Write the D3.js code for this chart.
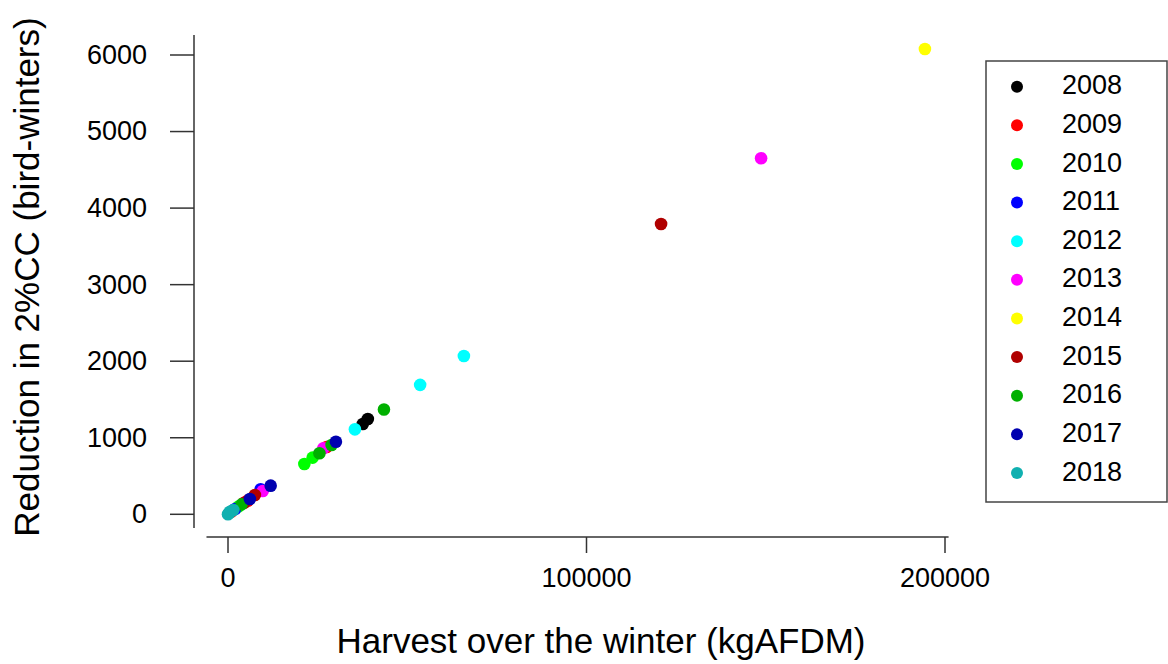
<!DOCTYPE html>
<html>
<head>
<meta charset="utf-8">
<script src="https://cdn.jsdelivr.net/npm/d3@7.9.0/dist/d3.min.js"></script>
<style>
  html, body { margin: 0; padding: 0; background: #fff; }
  svg text { font-family: "Liberation Sans", Arial, sans-serif; fill: #000; }
</style>
</head>
<body>
<svg id="chart" width="1168" height="664"></svg>
<script>
// years and their colours (R-style palette)
const years = ['2008', '2009', '2010', '2011', '2012', '2013', '2014', '2015', '2016', '2017', '2018'];
const yearColors = ['#000000', '#ff0000', '#00ff00', '#0000ff', '#00ffff', '#ff00ff',
                    '#ffff00', '#b00000', '#00b000', '#0000b0', '#10b0b0'];

// points: year, harvest (kgAFDM), reduction (bird-winters)
const pointYear = ['2008', '2008',
                   '2009', '2009', '2009',
                   '2010', '2010', '2010',
                   '2011', '2011',
                   '2012', '2012', '2012',
                   '2013', '2013', '2013',
                   '2014',
                   '2015', '2015', '2015',
                   '2016', '2016', '2016', '2016',
                   '2017', '2017', '2017',
                   '2018', '2018', '2018', '2018'];
const harvest = [37600, 39000,
                 5500, 27500, 1000,
                 21300, 23600, 2900,
                 9100, 2000,
                 35400, 53600, 65800,
                 148700, 26600, 9700,
                 194400,
                 120800, 7500, 4500,
                 43500, 25500, 28900, 3800,
                 30100, 11900, 6100,
                 300, 0, 560, 1480];
const reduction = [1180, 1245,
                   178, 880, 35,
                   657, 740, 100,
                   327, 70,
                   1110, 1691, 2068,
                   4651, 862, 304,
                   6078,
                   3792, 252, 150,
                   1370, 797, 905, 130,
                   948, 374, 200,
                   15, 0, 34, 56];

const xTicks = [0, 100000, 200000];
const yTicks = [0, 1000, 2000, 3000, 4000, 5000, 6000];

const svg = d3.select('#chart');
const colorOf = d3.scaleOrdinal().domain(years).range(yearColors);

const x = d3.scaleLinear().domain([0, 200000]).range([228, 945]);
const y = d3.scaleLinear().domain([0, 6000]).range([514.3, 55]);

const axisColor = '#333';

// x axis (line runs a bit beyond the end ticks, R style)
const xAxisY = 537;
svg.append('line')
  .attr('x1', x(-6000)).attr('x2', x(201000))
  .attr('y1', xAxisY).attr('y2', xAxisY)
  .attr('stroke', axisColor).attr('stroke-width', 1.5);
svg.selectAll('.xtick').data(xTicks).join('line')
  .attr('class', 'xtick')
  .attr('x1', d => x(d)).attr('x2', d => x(d))
  .attr('y1', xAxisY).attr('y2', xAxisY + 16)
  .attr('stroke', axisColor).attr('stroke-width', 1.5);
svg.selectAll('.xlab').data(xTicks).join('text')
  .attr('class', 'xlab')
  .attr('x', d => x(d)).attr('y', 587)
  .attr('text-anchor', 'middle')
  .attr('font-size', 27)
  .text(d => d);

// y axis
const yAxisX = 194;
svg.append('line')
  .attr('x1', yAxisX).attr('x2', yAxisX)
  .attr('y1', y(-180)).attr('y2', y(6260))
  .attr('stroke', axisColor).attr('stroke-width', 1.5);
svg.selectAll('.ytick').data(yTicks).join('line')
  .attr('class', 'ytick')
  .attr('x1', yAxisX - 24).attr('x2', yAxisX)
  .attr('y1', d => y(d)).attr('y2', d => y(d))
  .attr('stroke', axisColor).attr('stroke-width', 1.5);
svg.selectAll('.ylab').data(yTicks).join('text')
  .attr('class', 'ylab')
  .attr('x', 147).attr('y', d => y(d))
  .attr('dy', '0.33em')
  .attr('text-anchor', 'end')
  .attr('font-size', 27)
  .text(d => d);

// axis titles
svg.append('text')
  .attr('x', 601).attr('y', 653)
  .attr('text-anchor', 'middle')
  .attr('font-size', 35)
  .text('Harvest over the winter (kgAFDM)');
svg.append('text')
  .attr('transform', 'translate(39,277) rotate(-90)')
  .attr('text-anchor', 'middle')
  .attr('font-size', 35)
  .text('Reduction in 2%CC (bird-winters)');

// points
const points = pointYear.map((yr, i) => ({ year: yr, h: harvest[i], r: reduction[i] }));
svg.append('g').selectAll('circle').data(points).join('circle')
  .attr('cx', d => x(d.h))
  .attr('cy', d => y(d.r))
  .attr('r', 6.3)
  .attr('fill', d => colorOf(d.year));

// legend
const legend = svg.append('g');
legend.append('rect')
  .attr('x', 986).attr('y', 61)
  .attr('width', 181).attr('height', 441)
  .attr('fill', 'none')
  .attr('stroke', '#444').attr('stroke-width', 1.5);
const rowY = d3.scalePoint().domain(years).range([86.7, 473]);
legend.selectAll('circle').data(years).join('circle')
  .attr('cx', 1017).attr('cy', d => rowY(d))
  .attr('r', 6)
  .attr('fill', d => colorOf(d));
legend.selectAll('text').data(years).join('text')
  .attr('x', 1062).attr('y', d => rowY(d) + 7.6)
  .attr('font-size', 27)
  .text(d => d);
</script>
</body>
</html>
